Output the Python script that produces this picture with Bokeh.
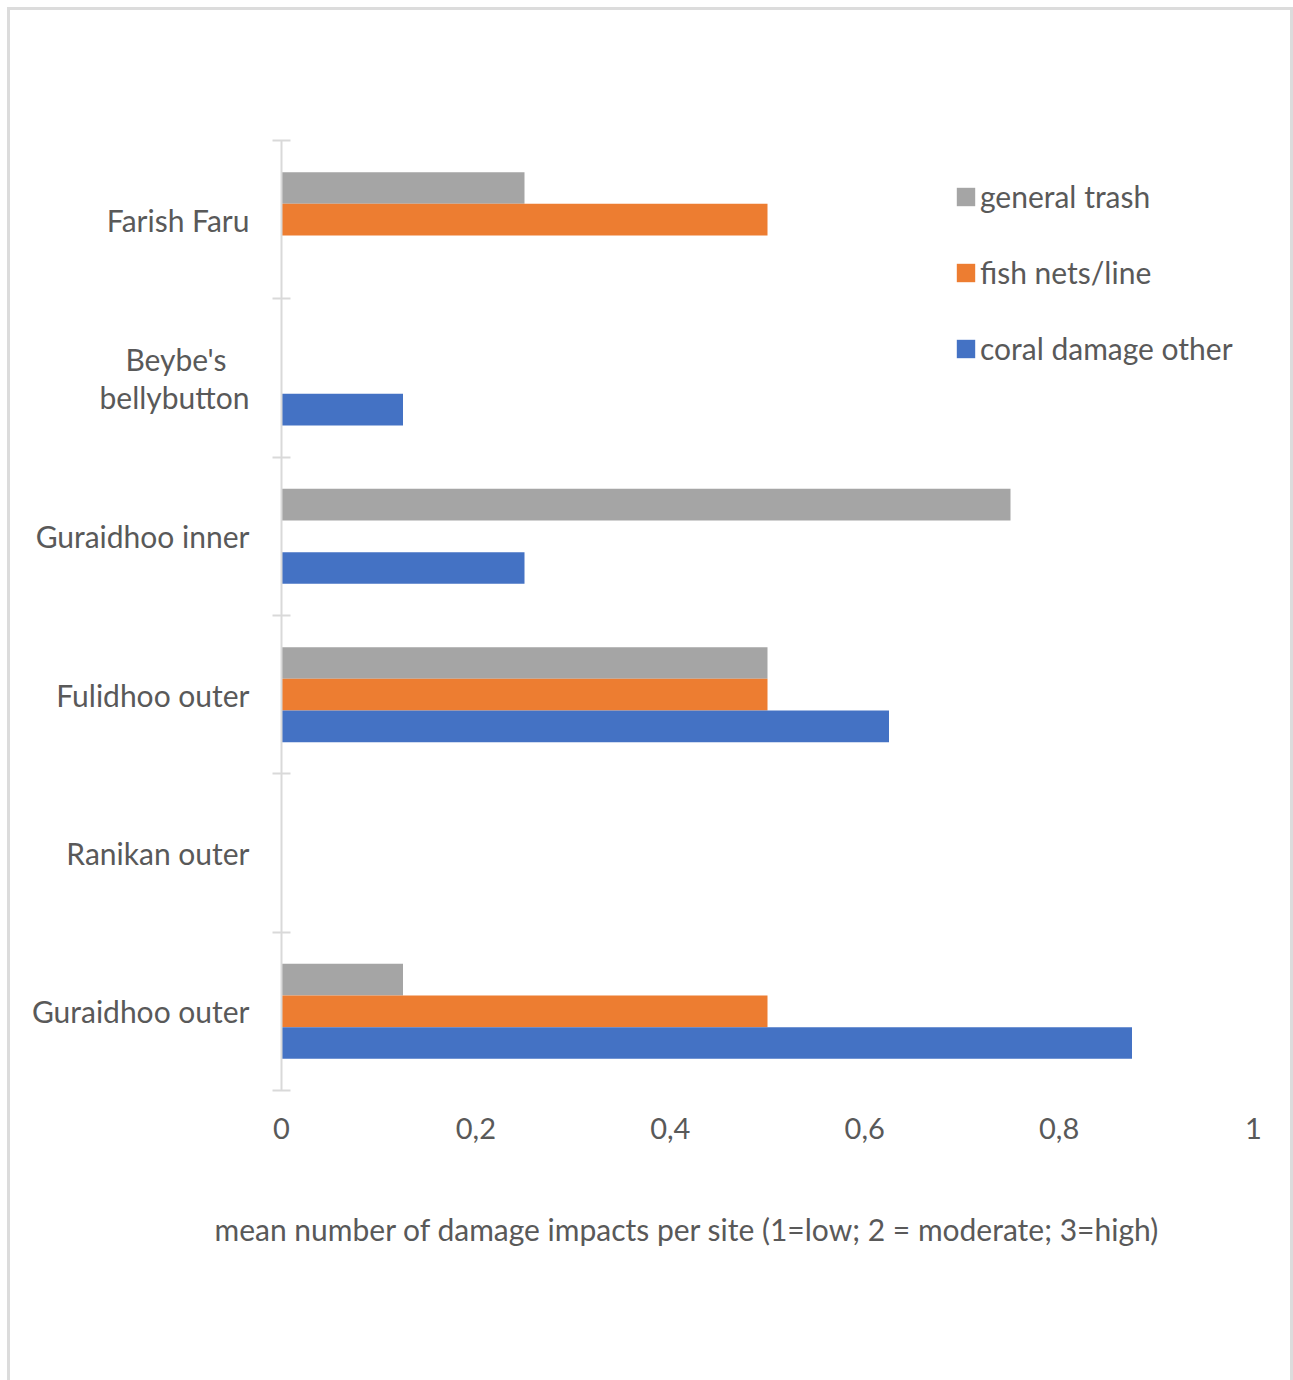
from bokeh.plotting import figure
from bokeh.models import (FactorRange, Range1d, LinearAxis, CategoricalAxis, FixedTicker,
                          Legend, LegendItem, Title, ColumnDataSource,
                          CustomJSTickFormatter)
from bokeh.transform import dodge
from bokeh.embed import file_html
from bokeh.resources import INLINE

# Sites, top to bottom
sites = ["Farish Faru", "Beybe's bellybutton", "Guraidhoo inner",
         "Fulidhoo outer", "Ranikan outer", "Guraidhoo outer"]
# two-line display names (no-break spaces keep the short line centred)
site_display = {"Beybe's bellybutton": "Beybe's\u00a0\u00a0\u00a0\nbellybutton"}

# Mean damage impacts per site, one list per impact type
general_trash = [0.25, 0.0, 0.75, 0.5, 0.0, 0.125]
fish_nets_line = [0.5, 0.0, 0.0, 0.5, 0.0, 0.5]
coral_damage_other = [0.0, 0.125, 0.25, 0.625, 0.0, 0.875]

series_names = ["general trash", "fish nets/line", "coral damage other"]
series_colors = ["#A5A5A5", "#ED7D31", "#4472C4"]

x_ticks = [0, 0.2, 0.4, 0.6, 0.8, 1]
x_tick_labels = ["0", "0,2", "0,4", "0,6", "0,8", "1"]
x_title = "mean number of damage impacts per site (1=low; 2 = moderate; 3=high)"

FONT = "Lato"
TEXT = "#595959"
GRID = "#d9d9d9"

factors = [site_display.get(s, s) for s in sites]
src = ColumnDataSource(dict(site=factors, trash=general_trash,
                            nets=fish_nets_line, coral=coral_damage_other))

p = figure(width=1280, height=1370,
           y_range=FactorRange(factors=factors[::-1]), x_range=Range1d(0, 1),
           output_backend="svg", toolbar_location=None, y_axis_location=None,
           min_border_left=271, min_border_right=43,
           min_border_top=130, min_border_bottom=293)
p.outline_line_color = None
p.xgrid.visible = False
p.ygrid.visible = False
p.background_fill_color = "white"
p.border_fill_color = "white"
# light chart border (open at the bottom)
p.styles = {"box-sizing": "content-box",
            "margin-left": "7px", "margin-top": "7px",
            "border-left": "3px solid #dcdcdc",
            "border-top": "3px solid #dcdcdc",
            "border-right": "3px solid #dcdcdc"}

# bars: three per site, dodged within each band
cols = ["trash", "nets", "coral"]
offsets = [0.2, 0.0, -0.2]
renderers = []
for col, off, color in zip(cols, offsets, series_colors):
    r = p.hbar(y=dodge("site", off, range=p.y_range), left=0, right=col,
               height=0.2, source=src, fill_color=color, line_color=None)
    renderers.append(r)

# x axis: labels only
xa = p.xaxis[0]
xa.ticker = FixedTicker(ticks=x_ticks)
xa.major_label_overrides = dict(zip(x_ticks, x_tick_labels))
xa.axis_line_color = None
xa.major_tick_line_color = None
xa.minor_tick_line_color = None
xa.major_label_text_font = FONT
xa.major_label_text_font_size = "29px"
xa.major_label_text_color = TEXT
xa.major_label_standoff = 21

# y axis line with ticks on the band boundaries
tick_axis = LinearAxis(ticker=FixedTicker(ticks=list(range(len(sites) + 1))),
                       formatter=CustomJSTickFormatter(code="return ''"),
                       axis_line_color=GRID, axis_line_width=2,
                       major_tick_line_color=GRID, major_tick_line_width=2,
                       major_tick_in=9, major_tick_out=9,
                       minor_tick_line_color=None, major_label_standoff=0)
p.add_layout(tick_axis, "left")

# site names
label_axis = CategoricalAxis(axis_line_color=None, major_tick_line_color=None,
                             minor_tick_line_color=None,
                             major_label_text_font=FONT,
                             major_label_text_font_size="30px",
                             major_label_text_color=TEXT,
                             major_label_text_line_height=1.03,
                             major_label_standoff=17)
p.add_layout(label_axis, "left")

# axis title under the tick labels
p.add_layout(Title(text=x_title, align="left", offset=-67, standoff=134,
                   text_font=FONT, text_font_size="30px",
                   text_font_style="normal", text_color=TEXT), "below")

legend = Legend(items=[LegendItem(label=n, renderers=[r])
                       for n, r in zip(series_names, renderers)],
                location=(673, 722), padding=0, margin=0, spacing=36,
                glyph_width=23, glyph_height=23, label_height=40,
                label_standoff=3, border_line_color=None,
                background_fill_alpha=0,
                label_text_font=FONT, label_text_font_size="30px",
                label_text_color=TEXT)
p.add_layout(legend)

open("out.html", "w").write(file_html(p, INLINE))
